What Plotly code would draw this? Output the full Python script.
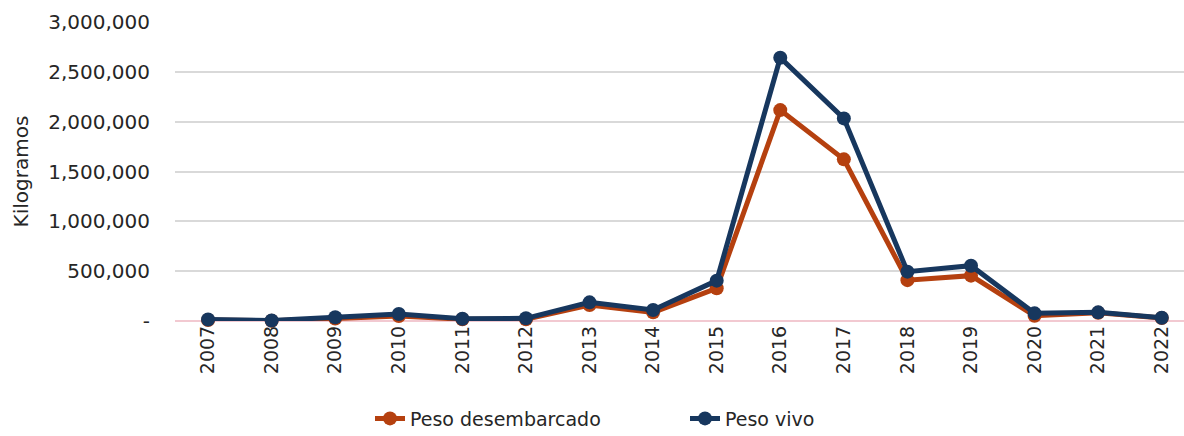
import plotly.graph_objects as go

# Annual catch weights (kg)
years = [str(y) for y in range(2007, 2023)]
peso_desembarcado = [10000, 3000, 25000, 50000, 18000, 18000, 160000, 87000,
                     328000, 2116000, 1622000, 410000, 455000, 53000, 82000, 30000]
peso_vivo = [15000, 5000, 37000, 70000, 23000, 27000, 187000, 110000,
             405000, 2641000, 2033000, 495000, 555000, 77000, 87000, 33000]

y_tickvals = [0, 500000, 1000000, 1500000, 2000000, 2500000, 3000000]
y_ticktext = ["-", "500,000", "1,000,000", "1,500,000", "2,000,000", "2,500,000", "3,000,000"]

ORANGE = "#B5400F"
NAVY = "#17375E"
FONT = "DejaVu Sans"

fig = go.Figure()
fig.add_trace(go.Scatter(
    x=years, y=peso_desembarcado, name="Peso desembarcado",
    mode="lines+markers", line=dict(color=ORANGE, width=5),
    marker=dict(color=ORANGE, size=14), cliponaxis=False,
))
fig.add_trace(go.Scatter(
    x=years, y=peso_vivo, name="Peso vivo",
    mode="lines+markers", line=dict(color=NAVY, width=5),
    marker=dict(color=NAVY, size=14), cliponaxis=False,
))

fig.update_layout(
    width=1184, height=436,
    margin=dict(l=175, r=0, t=22, b=115),
    paper_bgcolor="white", plot_bgcolor="white",
    font=dict(family=FONT, size=18, color="#262626"),
    showlegend=True,
    legend=dict(
        orientation="h", xref="container", yref="container",
        x=0.3125, xanchor="left", y=0.04, yanchor="middle",
        font=dict(size=19), traceorder="normal", entrywidth=270,
    ),
    xaxis=dict(
        type="category", range=[-0.52, 15.35], tickangle=-90,
        showgrid=False, showline=False, ticks="", tickfont=dict(size=19),
    ),
    yaxis=dict(
        range=[0, 3000000], tickvals=y_tickvals, ticktext=y_ticktext,
        showgrid=True, gridcolor="#D9D9D9", gridwidth=2,
        zeroline=True, zerolinecolor="#F2C9D1", zerolinewidth=2,
        showline=False, ticks="", ticklabelstandoff=24,
        tickfont=dict(size=20),
        title=dict(text="Kilogramos", font=dict(size=20), standoff=14),
    ),
)

fig.write_html("out.html")
